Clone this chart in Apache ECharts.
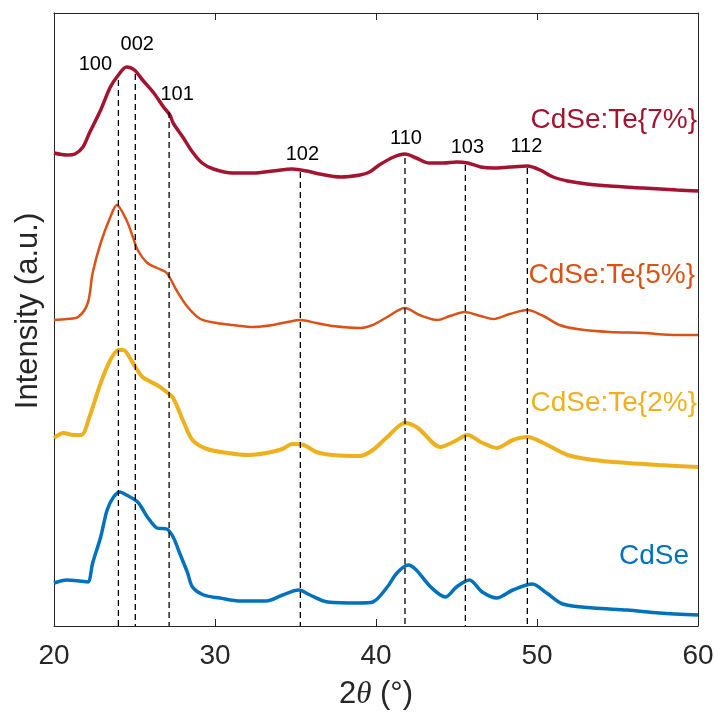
<!DOCTYPE html>
<html>
<head>
<meta charset="utf-8">
<script src="https://cdn.jsdelivr.net/npm/echarts@6/dist/echarts.min.js"></script>
<style>
  html, body { margin: 0; padding: 0; background: #fff; }
  #main { width: 714px; height: 713px; }
</style>
</head>
<body>
<div id="main"></div>
<script>
// 2theta (deg) and intensity (a.u., offset stacked)
var te7X = [20.0, 20.8, 21.3, 21.8, 22.2, 22.9, 23.5, 24.0, 24.5, 25.0, 25.5, 26.2, 26.8, 27.2, 27.4, 28.0, 28.6, 29.2, 29.9, 31.1,
  32.4, 33.6, 34.8, 35.7, 36.5, 37.8, 39.0, 39.6, 40.2, 41.1, 41.8, 42.5, 43.3, 44.2, 45.0, 45.7, 46.5, 47.3, 48.3, 49.4,
  50.2, 51.0, 51.9, 53.1, 54.5, 56.6, 58.7, 60.0];
var te7Y = [473, 471, 472, 479, 493, 516, 539, 551, 559, 556, 546, 533, 519, 511, 503, 489, 474, 463, 457, 453,
  453, 455, 457, 455, 452, 449, 451, 454, 461, 469, 472, 468, 463, 463, 464, 463, 459, 458, 459, 460,
  456, 449, 445, 442, 440, 438, 436, 435];

var te5X = [20.0, 20.8, 21.5, 22.1, 22.4, 22.9, 23.5, 23.9, 24.5, 24.9, 25.2, 25.8, 26.4, 27.0, 27.6, 28.3, 29.1, 30.1, 31.1,
  32.4, 33.6, 34.5, 35.3, 36.3, 37.3, 39.0, 39.8, 40.7, 41.8, 42.7, 43.8, 44.6, 45.5, 46.5, 47.3, 48.3, 49.4, 50.4, 51.4,
  52.5, 54.5, 56.6, 58.7, 60.0];
var te5Y = [306, 307, 309, 323, 353, 383, 409, 421, 406, 389, 376, 363, 358, 353, 336, 319, 307, 303, 301,
  299, 301, 304, 306, 303, 300, 298, 301, 309, 318, 311, 306, 310, 314, 310, 307, 312, 316, 310, 301,
  297, 294, 293, 291, 291];

var te2X = [20.0, 20.6, 21.2, 21.7, 22.2, 22.9, 23.5, 24.0, 24.3, 24.9, 25.5, 26.4, 27.0, 27.4, 28.0, 28.6, 29.5, 30.8, 32.0, 33.2,
  34.2, 34.8, 35.5, 36.3, 37.3, 39.0, 39.8, 40.7, 41.8, 42.6, 44.0, 44.8, 45.7, 46.5, 47.5, 48.5, 49.4, 50.4, 51.9, 53.5,
  55.6, 57.6, 60.0];
var te2Y = [188, 193, 191, 191, 209, 243, 266, 276, 276, 263, 249, 241, 234, 228, 206, 186, 177, 173, 171, 173,
  177, 182, 181, 174, 171, 170, 176, 189, 203, 198, 179, 184, 191, 184, 178, 186, 189, 183, 171, 166,
  163, 161, 159];

var cdseX = [20.0, 20.8, 21.6, 22.1, 22.4, 22.9, 23.3, 23.7, 24.1, 24.5, 25.2, 25.8, 26.4, 27.0, 27.4, 27.8, 28.3, 28.6, 29.3, 30.3,
  31.6, 33.2, 34.2, 35.2, 35.9, 37.0, 39.0, 39.8, 40.7, 41.3, 42.0, 42.5, 43.4, 44.3, 45.0, 45.8, 46.6, 47.5, 48.5, 49.7,
  50.6, 51.6, 53.5, 55.6, 57.6, 60.0];
var cdseY = [43, 46, 45, 44, 63, 89, 116, 129, 134, 131, 124, 109, 98, 97, 89, 73, 53, 39, 31, 28,
  25, 25, 31, 36, 31, 24, 23, 24, 39, 53, 61, 56, 39, 29, 39, 46, 34, 28, 36, 42,
  33, 22, 18, 16, 13, 11];

// reflections
var peakNames = ['100', '002', '101', '102', '110', '103', '112'];
var peakAngles = [24.0, 25.05, 27.15, 35.3, 41.8, 45.55, 49.4];
var peakTops = [546, 552, 514, 454, 468, 461, 458];

var sampleNames = ['CdSe', 'CdSe:Te{2%}', 'CdSe:Te{5%}', 'CdSe:Te{7%}'];
var sampleColors = ['#0072BD', '#EDB120', '#D95319', '#A2142F'];
var sampleWidths = [3.5, 4, 2.5, 3.5];

var labelLevels = [70, 223, 351, 506];
var labelShift = [-9, -1, -3, -1];
var peakLabelOffset = [[-23, 0], [2, -14], [8, -2], [2, -2], [1, -4], [2, -2], [-1, -6]];

function zip(xs, ys) {
  var out = [];
  for (var i = 0; i < xs.length; i++) out.push([xs[i], ys[i]]);
  return out;
}

var chart = echarts.init(document.getElementById('main'));
var axisColor = '#262626';
var font = '"Liberation Sans", Arial, Helvetica, sans-serif';

var curves = [zip(cdseX, cdseY), zip(te2X, te2Y), zip(te5X, te5Y), zip(te7X, te7Y)];
var series = [];

curves.forEach(function (d, i) {
  series.push({
    name: sampleNames[i],
    type: 'line',
    data: d,
    smooth: 0.3,
    showSymbol: false,
    symbol: 'none',
    lineStyle: { color: sampleColors[i], width: sampleWidths[i] },
    z: 2
  });
  // sample name on the right
  series.push({
    type: 'scatter',
    data: [[60, labelLevels[i]]],
    symbolSize: 0,
    silent: true,
    itemStyle: { opacity: 1 },
    label: {
      show: true,
      position: 'left',
      distance: 0,
      offset: [labelShift[i], 0],
      formatter: sampleNames[i],
      color: sampleColors[i],
      opacity: 1,
      fontSize: 28,
      fontFamily: font
    }
  });
});

// dashed reference lines + hkl labels
peakAngles.forEach(function (a, i) {
  series.push({
    type: 'line',
    data: [[a, peakTops[i]], [a, 0]],
    symbol: 'none',
    silent: true,
    lineStyle: { color: '#000', width: 1.3, type: [6, 4] },
    z: 5
  });
  series.push({
    type: 'scatter',
    data: [[a, peakTops[i]]],
    symbolSize: 0,
    silent: true,
    itemStyle: { opacity: 1 },
    label: {
      show: true,
      position: 'top',
      distance: 6,
      offset: peakLabelOffset[i],
      formatter: peakNames[i],
      color: '#000',
      opacity: 1,
      fontSize: 20,
      fontFamily: font
    },
    z: 6
  });
});

var option = {
  backgroundColor: '#fff',
  animation: false,
  grid: { left: 54, right: 16, top: 13, bottom: 87, outerBoundsMode: 'none' },
  xAxis: [{
    type: 'value',
    min: 20,
    max: 60,
    interval: 10,
    position: 'bottom',
    name: '{n|2}{t|θ}{n| (°)}',
    nameLocation: 'middle',
    nameGap: 53,
    nameTextStyle: {
      rich: {
        n: { fontSize: 31, fontFamily: font, color: axisColor },
        t: { fontSize: 31, fontFamily: '"Liberation Serif", serif', fontStyle: 'italic', color: axisColor }
      }
    },
    axisLine: { show: true, onZero: false, lineStyle: { color: axisColor, width: 1 } },
    axisTick: { show: true, inside: true, length: 7, lineStyle: { color: axisColor } },
    axisLabel: { fontSize: 28, margin: 16, color: axisColor, fontFamily: font },
    splitLine: { show: false }
  }, {
    type: 'value',
    min: 20,
    max: 60,
    interval: 10,
    position: 'top',
    axisLine: { show: true, onZero: false, lineStyle: { color: axisColor, width: 1 } },
    axisTick: { show: true, inside: true, length: 7, lineStyle: { color: axisColor } },
    axisLabel: { show: false },
    splitLine: { show: false }
  }],
  yAxis: [{
    type: 'value',
    min: 0,
    max: 613,
    name: 'Intensity (a.u.)',
    nameLocation: 'middle',
    nameGap: 10,
    nameTextStyle: { fontSize: 31, fontFamily: font, color: axisColor, padding: [0, 0, 0, 17] },
    axisLine: { show: true, onZero: false, lineStyle: { color: axisColor, width: 1 } },
    axisTick: { show: false },
    axisLabel: { show: false },
    splitLine: { show: false }
  }, {
    type: 'value',
    min: 0,
    max: 613,
    position: 'right',
    axisLine: { show: true, onZero: false, lineStyle: { color: axisColor, width: 1 } },
    axisTick: { show: false },
    axisLabel: { show: false },
    splitLine: { show: false }
  }],
  series: series
};

chart.setOption(option);
</script>
</body>
</html>
